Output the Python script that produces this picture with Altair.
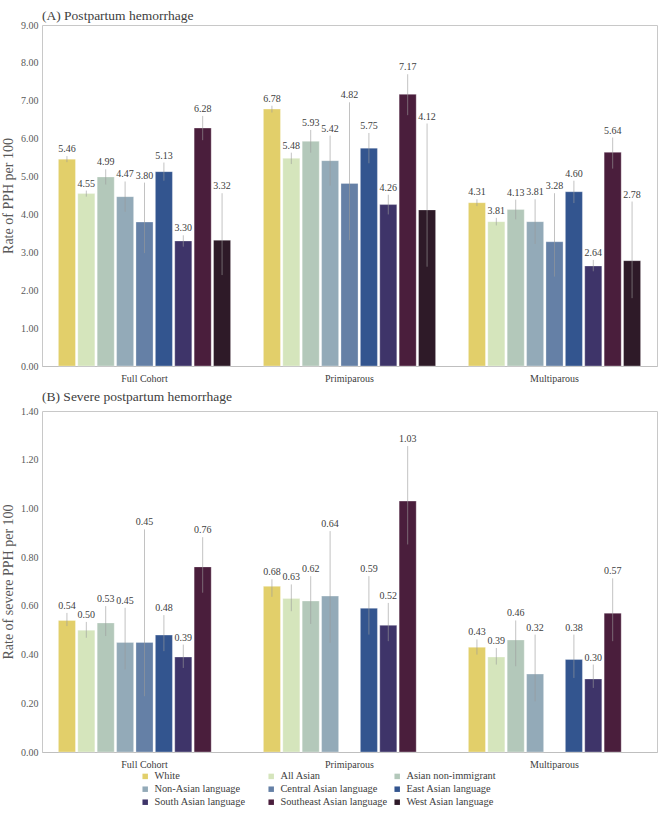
import altair as alt
import pandas as pd

groups = ["Full Cohort", "Primiparous", "Multiparous"]
eth = ["White", "All Asian", "Asian non-immigrant", "Non-Asian language",
       "Central Asian language", "East Asian language", "South Asian language",
       "Southeast Asian language", "West Asian language"]
colors = ["#E2CF6A", "#D5E5BC", "#B3C8BA", "#93AAB8", "#6580A6",
          "#33558F", "#3E3469", "#4A1E3C", "#2E1A28"]

# (A) Postpartum hemorrhage, per group
pph_rate = [[5.46, 4.55, 4.99, 4.47, 3.80, 5.13, 3.30, 6.28, 3.32],
            [6.78, 5.48, 5.93, 5.42, 4.82, 5.75, 4.26, 7.17, 4.12],
            [4.31, 3.81, 4.13, 3.81, 3.28, 4.60, 2.64, 5.64, 2.78]]
pph_lo = [[5.38, 4.47, 4.79, 4.07, 2.98, 4.89, 3.15, 5.96, 2.40],
          [6.69, 5.33, 5.63, 4.76, 3.32, 5.35, 4.00, 6.62, 2.62],
          [4.22, 3.71, 3.87, 3.22, 2.36, 4.30, 2.50, 5.21, 1.79]]
pph_hi = [[5.54, 4.63, 5.19, 4.87, 4.84, 5.37, 3.45, 6.60, 4.56],
          [6.87, 5.63, 6.23, 6.08, 6.96, 6.15, 4.52, 7.70, 6.40],
          [4.40, 3.91, 4.39, 4.40, 4.56, 4.89, 2.80, 6.03, 4.34]]

# (B) Severe postpartum hemorrhage, per group (None = not reported)
spph_rate = [[0.54, 0.50, 0.53, 0.45, 0.45, 0.48, 0.39, 0.76, None],
             [0.68, 0.63, 0.62, 0.64, None, 0.59, 0.52, 1.03, None],
             [0.43, 0.39, 0.46, 0.32, None, 0.38, 0.30, 0.57, None]]
spph_lo = [[0.517, 0.469, 0.476, 0.339, 0.229, 0.414, 0.345, 0.654, None],
           [0.637, 0.578, 0.526, 0.448, None, 0.482, 0.455, 0.852, None],
           [0.400, 0.359, 0.352, 0.208, None, 0.304, 0.263, 0.455, None]]
spph_hi = [[0.571, 0.534, 0.599, 0.592, 0.914, 0.562, 0.441, 0.882, None],
           [0.709, 0.688, 0.722, 0.907, None, 0.722, 0.612, 1.256, None],
           [0.462, 0.427, 0.540, 0.482, None, 0.482, 0.359, 0.713, None]]

FONT = "Liberation Serif"


def make_df(rate, lo, hi):
    rows = []
    for gi, g in enumerate(groups):
        for ei, e in enumerate(eth):
            if rate[gi][ei] is None:
                continue
            rows.append({"Group": g, "Eth": e, "Rate": rate[gi][ei],
                         "Lo": lo[gi][ei], "Hi": hi[gi][ei]})
    return pd.DataFrame(rows)


def panel(df, title, ytitle, ymax, step, title_offset):
    ticks = [round(i * step, 2) for i in range(int(round(ymax / step)) + 1)]
    yscale = alt.Scale(domain=[0, ymax], nice=False, zero=True)
    yaxis = alt.Axis(values=ticks, format=".2f", grid=False, ticks=False,
                     tickSize=0, domain=False, labelFont=FONT, labelFontSize=10,
                     labelColor="#595959", labelPadding=4, labelOverlap=False,
                     titleFont=FONT, titleFontSize=14, titleFontWeight="normal",
                     titleColor="#595959", titlePadding=5)
    base = alt.Chart(df).encode(
        x=alt.X("Group:N", sort=groups, title=None,
                scale=alt.Scale(domain=groups, paddingInner=0.16, paddingOuter=0.08),
                axis=alt.Axis(labelAngle=0, ticks=False, tickSize=0, domainColor="#bfbfbf",
                              labelFont=FONT, labelFontSize=10, labelColor="#404040",
                              labelPadding=7)),
        xOffset=alt.XOffset("Eth:N", sort=eth,
                            scale=alt.Scale(domain=eth, paddingInner=0.12)),
    )
    bars = base.mark_bar(stroke="#ffffff", strokeWidth=0.5, strokeOpacity=0.6).encode(
        y=alt.Y("Rate:Q", title=ytitle, scale=yscale, axis=yaxis),
        color=alt.Color("Eth:N", sort=eth, scale=alt.Scale(domain=eth, range=colors),
                        legend=alt.Legend(title=None, orient="none", legendX=98,
                                          legendY=746, columns=3, direction="horizontal",
                                          symbolType="square", symbolSize=30,
                                          symbolStrokeWidth=0, labelFont=FONT,
                                          labelFontSize=10.4, labelColor="#404040",
                                          columnPadding=4, rowPadding=2,
                                          gridAlign="all", labelOffset=4)),
    )
    err = base.mark_rule(color="#9a9a9a", opacity=0.6, strokeWidth=1).encode(
        y=alt.Y("Lo:Q", title=ytitle, scale=yscale, axis=yaxis), y2="Hi:Q")
    text = base.mark_text(baseline="bottom", dy=-2, font=FONT, fontSize=10,
                          color="#404040").encode(
        y=alt.Y("Hi:Q", title=ytitle, scale=yscale, axis=yaxis),
        text=alt.Text("Rate:Q", format=".2f"))
    return alt.layer(bars, err, text).properties(
        width=615, height=341,
        title=alt.TitleParams(title, anchor="start", frame="group", font=FONT,
                              fontSize=13.5, fontWeight="normal", color="#404040",
                              offset=title_offset),
    )


top = panel(make_df(pph_rate, pph_lo, pph_hi), "(A) Postpartum hemorrhage",
            "Rate of PPH per 100", 9.0, 1.0, -2)
bottom = panel(make_df(spph_rate, spph_lo, spph_hi), "(B) Severe postpartum hemorrhage",
               "Rate of severe PPH per 100", 1.4, 0.2, 3)

chart = alt.vconcat(top, bottom, spacing=5).properties(
    padding={"left": 1, "top": 8, "right": 4, "bottom": 1},
    background="white",
).configure_view(stroke="#c8c8c8", strokeWidth=1)

chart.save("out.html", embed_options={"renderer": "svg", "actions": False})
